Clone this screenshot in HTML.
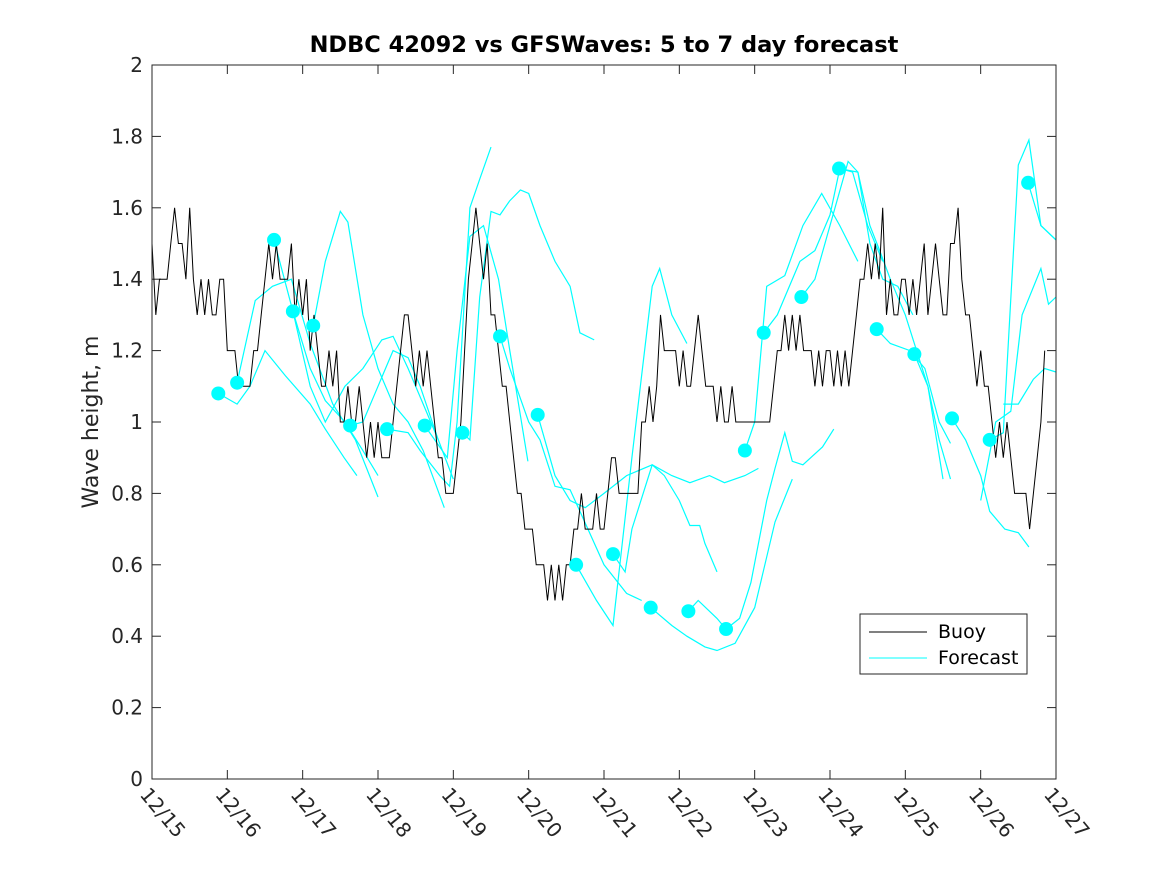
<!DOCTYPE html>
<html><head><meta charset="utf-8"><style>
html,body{margin:0;padding:0;background:#fff;}
svg{display:block;font-family:"DejaVu Sans","Liberation Sans",sans-serif;}
</style></head><body>
<svg id="chart" width="1167" height="875" viewBox="0 0 1167 875" xmlns="http://www.w3.org/2000/svg">
<rect width="1167" height="875" fill="#fff"/>
<text x="604" y="52" text-anchor="middle" font-size="22.5" font-weight="bold" fill="#000">NDBC 42092 vs GFSWaves: 5 to 7 day forecast</text>
<text transform="translate(98,422) rotate(-90)" text-anchor="middle" font-size="22" fill="#262626">Wave height, m</text>
<g id="plot"></g>
<rect x="152" y="65" width="904" height="714" fill="none" stroke="#262626" stroke-width="1"/>
<g>
<rect x="860" y="614" width="167" height="60" fill="#fff" stroke="#262626"/>
<line x1="869" y1="632" x2="927" y2="632" stroke="#000"/>
<text x="938" y="638" font-size="19" fill="#000">Buoy</text>
<line x1="869" y1="658" x2="927" y2="658" stroke="#00ffff"/>
<text x="938" y="664" font-size="19" fill="#000">Forecast</text>
</g>
</svg>
<script>
const xTickLabels=["12/15","12/16","12/17","12/18","12/19","12/20","12/21","12/22","12/23","12/24","12/25","12/26","12/27"];
const yTicks=[0,0.2,0.4,0.6,0.8,1,1.2,1.4,1.6,1.8,2];
const buoyStart=0;
const buoyStep=0.05;
const buoyValues=[
1.5,1.3,1.4,1.4,1.4,1.5,1.6,1.5,1.5,1.4,1.6,1.4,1.3,1.4,1.3,1.4,1.3,1.3,1.4,1.4,
1.2,1.2,1.2,1.1,1.1,1.1,1.1,1.2,1.2,1.3,1.4,1.5,1.4,1.5,1.4,1.4,1.4,1.5,1.3,1.4,
1.3,1.4,1.2,1.3,1.2,1.1,1.1,1.2,1.1,1.2,1.0,1.0,1.1,1.0,1.0,1.1,1.0,0.9,1.0,0.9,
1.0,0.9,0.9,0.9,1.0,1.1,1.2,1.3,1.3,1.2,1.1,1.2,1.1,1.2,1.1,1.0,0.9,0.9,0.8,0.8,
0.8,0.9,1.0,1.2,1.4,1.5,1.6,1.5,1.4,1.5,1.3,1.3,1.2,1.1,1.1,1.0,0.9,0.8,0.8,0.7,
0.7,0.7,0.6,0.6,0.6,0.5,0.6,0.5,0.6,0.5,0.6,0.6,0.7,0.7,0.8,0.7,0.7,0.7,0.8,0.7,
0.7,0.8,0.9,0.9,0.8,0.8,0.8,0.8,0.8,0.8,1.0,1.0,1.1,1.0,1.1,1.3,1.2,1.2,1.2,1.2,
1.1,1.2,1.1,1.1,1.2,1.3,1.2,1.1,1.1,1.1,1.0,1.1,1.0,1.0,1.1,1.0,1.0,1.0,1.0,1.0,
1.0,1.0,1.0,1.0,1.0,1.1,1.2,1.2,1.3,1.2,1.3,1.2,1.3,1.2,1.2,1.2,1.1,1.2,1.1,1.2,
1.2,1.1,1.2,1.1,1.2,1.1,1.2,1.3,1.4,1.4,1.5,1.4,1.5,1.4,1.6,1.3,1.4,1.3,1.3,1.4,
1.4,1.3,1.4,1.3,1.4,1.5,1.3,1.4,1.5,1.4,1.3,1.3,1.5,1.5,1.6,1.4,1.3,1.3,1.2,1.1,
1.2,1.1,1.1,1.0,0.9,1.0,0.9,1.0,0.9,0.8,0.8,0.8,0.8,0.7,0.8,0.9,1.0,1.2];
const forecastDays=[
[0.88,1.13,1.3,1.5,1.77,2.1,2.3,2.55,2.72],
[1.13,1.37,1.6,1.85,2.1,2.4,2.7,3.0],
[1.62,1.87,2.1,2.3,2.56,2.8,3.0],
[1.87,2.1,2.3,2.56,2.8,3.05,3.2,3.4,3.6,3.8],
[2.14,2.3,2.5,2.6,2.8,3.0,3.2,3.4,3.6,3.88],
[2.63,2.8,3.0,3.2,3.4,3.56,3.8,4.0],
[3.12,3.4,3.56,3.82,3.95,4.05,4.22,4.35,4.5],
[3.62,3.92,4.05,4.22,4.4,4.6,4.75,4.99],
[4.12,4.22,4.35,4.5,4.62,4.75,4.89,5.0,5.15,5.35,5.55,5.68,5.87],
[4.62,4.75,5.0,5.15,5.35,5.55,5.68,6.0,6.3,6.5],
[5.12,5.35,5.55,5.75,6.0,6.3,6.64,6.8,7.0,7.14,7.27,7.34,7.5],
[5.63,5.9,6.12,6.37,6.64,6.74,6.9,7.1],
[6.12,6.28,6.37,6.64,6.9,7.14,7.4,7.6,7.87,8.05],
[6.62,6.9,7.1,7.34,7.5,7.74,8.0,8.27,8.5],
[7.12,7.25,7.5,7.62],
[7.62,7.8,7.95,8.16,8.27,8.4,8.5,8.64,8.9,9.05],
[7.87,8.0,8.16,8.4,8.64,8.89,9.13,9.37],
[8.12,8.3,8.6,8.8,9.0,9.13,9.3,9.5,9.7],
[8.62,8.8,9.0,9.24,9.37,9.53,9.7,9.9,10.1],
[9.12,9.37,9.53,9.66,9.8,10.0,10.3,10.5],
[9.62,9.8,10.06,10.26,10.45,10.6],
[10.12,10.3,10.45,10.6],
[10.62,10.8,11.0,11.12,11.32,11.5,11.64],
[11.12,11.3,11.5,11.64,11.8,12.0],
[11.63,11.8,12.0],
[11.0,11.2,11.4,11.55,11.8,11.9,12.0],
[11.3,11.5,11.7,11.85,12.0]];
const forecastValues=[
[1.08,1.05,1.10,1.20,1.13,1.05,0.98,0.90,0.85],
[1.11,1.34,1.38,1.40,1.22,1.05,0.95,0.79],
[1.51,1.31,1.15,1.06,1.0,0.92,0.85],
[1.31,1.10,1.00,1.10,1.15,1.23,1.24,1.15,1.05,0.95],
[1.27,1.45,1.59,1.56,1.30,1.15,1.05,1.0,0.92,0.76],
[0.99,1.0,1.10,1.20,1.18,1.10,0.95,0.84],
[0.98,0.97,0.92,0.85,0.82,1.0,1.60,1.68,1.77],
[0.99,0.90,1.2,1.52,1.55,1.40,1.2,0.89],
[0.97,0.95,1.35,1.59,1.58,1.62,1.65,1.64,1.55,1.45,1.38,1.25,1.23],
[1.24,1.15,1.0,0.95,0.82,0.81,0.75,0.60,0.52,0.50],
[1.02,0.85,0.78,0.76,0.80,0.85,0.88,0.85,0.78,0.71,0.71,0.66,0.58],
[0.60,0.50,0.43,0.90,1.38,1.43,1.30,1.22],
[0.63,0.58,0.70,0.88,0.85,0.83,0.85,0.83,0.85,0.87],
[0.48,0.43,0.40,0.37,0.36,0.38,0.48,0.72,0.84],
[0.47,0.50,0.45,0.42],
[0.42,0.45,0.55,0.78,0.87,0.97,0.89,0.88,0.93,0.98],
[0.92,1.0,1.38,1.41,1.55,1.64,1.55,1.45],
[1.25,1.30,1.45,1.48,1.58,1.71,1.70,1.55,1.45],
[1.35,1.40,1.55,1.73,1.70,1.50,1.40,1.38,1.30],
[1.71,1.70,1.55,1.48,1.40,1.30,1.10,0.84],
[1.26,1.22,1.20,1.15,1.00,0.94],
[1.19,1.10,0.95,0.84],
[1.01,0.95,0.85,0.75,0.70,0.69,0.65],
[0.95,0.97,1.72,1.79,1.55,1.51],
[1.67,1.55,1.51],
[0.78,1.0,1.03,1.30,1.43,1.33,1.35],
[1.05,1.05,1.12,1.15,1.14]];
const dotDays=[0.88,1.13,1.62,1.87,2.14,2.63,3.12,3.62,4.12,4.62,5.12,5.63,6.12,6.62,7.12,7.62,7.87,8.12,8.62,9.12,9.62,10.12,10.62,11.12,11.63];
const dotValues=[1.08,1.11,1.51,1.31,1.27,0.99,0.98,0.99,0.97,1.24,1.02,0.60,0.63,0.48,0.47,0.42,0.92,1.25,1.35,1.71,1.26,1.19,1.01,0.95,1.67];

const NS="http://www.w3.org/2000/svg";
const X0=152,X1=1056,Y0=779,Y1=65;
function xs(d){return X0+(X1-X0)*d/12;}
function ys(v){return Y0-(Y0-Y1)*v/2;}
const g=document.getElementById('plot');
function mk(t,a){const e=document.createElementNS(NS,t);for(const k in a)e.setAttribute(k,a[k]);g.appendChild(e);return e;}

yTicks.forEach((v,i)=>{
  const y=ys(v);
  const t1=mk('line',{x1:X0,y1:y,x2:X0+9,y2:y,stroke:'#262626'});
  
  
  const t2=mk('line',{x1:X1-9,y1:y,x2:X1,y2:y,stroke:'#262626'});
  
  
  const tx=mk('text',{x:X0-9,y:y+7,'text-anchor':'end','font-size':'20',fill:'#262626'});
  tx.textContent=String(v);
  
  
});
xTickLabels.forEach((lab,i)=>{
  const x=xs(i);
  const t1=mk('line',{x1:x,y1:Y0,x2:x,y2:Y0-9,stroke:'#262626'});
  
  
  const t2=mk('line',{x1:x,y1:Y1,x2:x,y2:Y1+9,stroke:'#262626'});
  
  
  const tx=mk('text',{transform:`translate(${x-13},${Y0+16}) rotate(50)`,'font-size':'20',fill:'#262626'});
  tx.textContent=lab;
  
  
});
forecastDays.forEach((ds,i)=>{
  const pts=ds.map((d,j)=>xs(d).toFixed(1)+','+ys(forecastValues[i][j]).toFixed(1)).join(' ');
  const p=mk('polyline',{points:pts,fill:'none',stroke:'#00ffff','stroke-width':'1.2'});
  
  
});
const bp=[];
buoyValues.forEach((v,i)=>{bp.push(xs(buoyStart+i*buoyStep).toFixed(1)+','+ys(v).toFixed(1));});
const bl=mk('polyline',{points:bp.join(' '),fill:'none',stroke:'#000','stroke-width':'1'});


dotDays.forEach((d,i)=>{
  const c=mk('circle',{cx:xs(d),cy:ys(dotValues[i]),r:7,fill:'#00ffff'});
  
  
});
</script>
</body></html>
